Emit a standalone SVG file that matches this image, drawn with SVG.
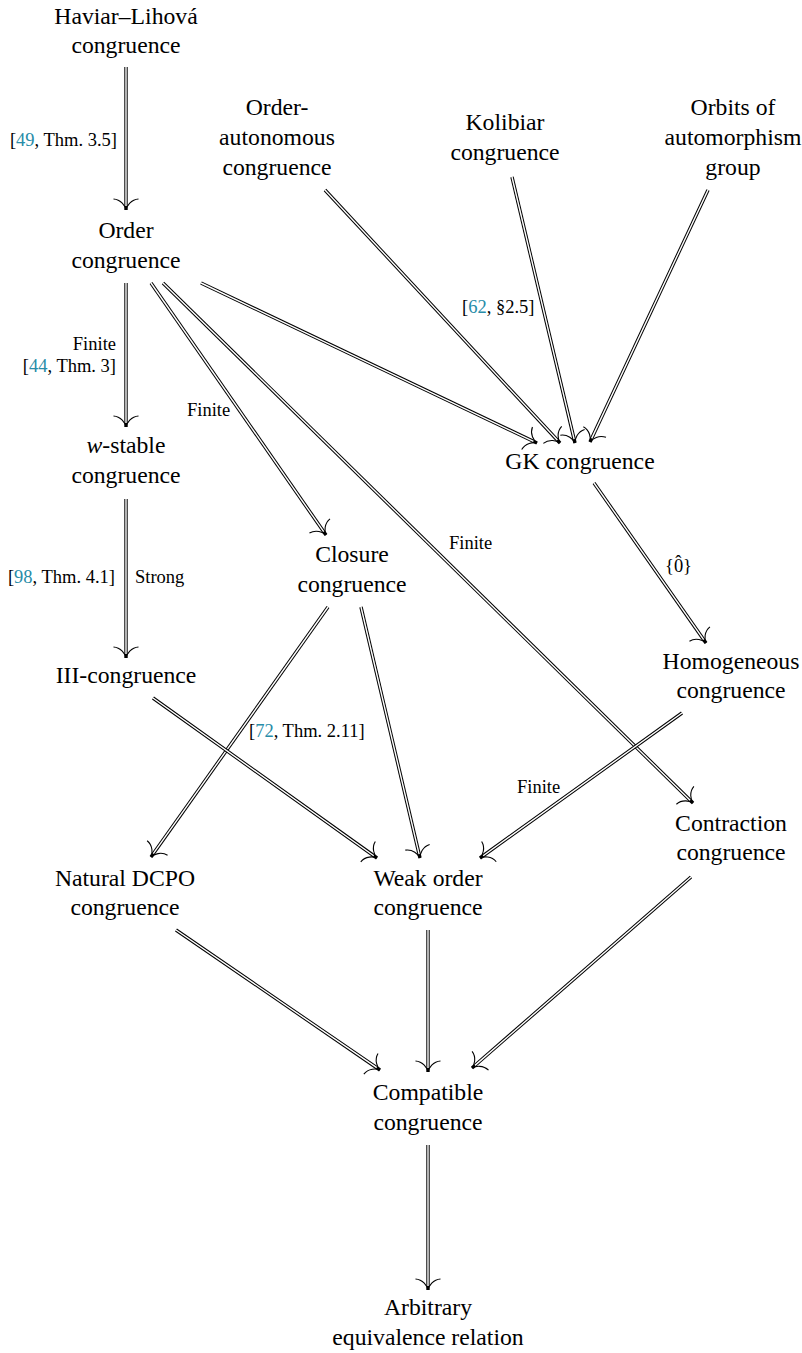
<svg xmlns="http://www.w3.org/2000/svg" width="802" height="1353" viewBox="0 0 802 1353">
<defs>
<style>
text{font-family:'Liberation Serif','DejaVu Serif',serif}
.n{font-size:23.7px;fill:#000;text-anchor:middle}
.l{font-size:18.5px;fill:#000}
.c{fill:#288ca8}
.o{stroke:#000;stroke-width:3.4;fill:none;marker-end:url(#ah)}
.i{stroke:#fff;stroke-width:1.4;fill:none}
</style>
<marker id="ah" markerUnits="userSpaceOnUse" viewBox="-14 -14 16 28" markerWidth="16" markerHeight="28" refX="0" refY="0" orient="auto" overflow="visible">
<path d="M -11,-12.5 C -10.5,-5 -4,-0.8 0,0 C -4,0.8 -10.5,5 -11,12.5" fill="none" stroke="#000" stroke-width="1.1"/>
</marker>
</defs>
<rect width="802" height="1353" fill="#fff"/>
<g id="connectors">
<g id="e1"><line class="o" x1="126" y1="67" x2="126" y2="210"/><line class="i" x1="126" y1="67" x2="126" y2="206"/></g>
<g id="e2"><line class="o" x1="126" y1="283" x2="126" y2="427"/><line class="i" x1="126" y1="283" x2="126" y2="423"/></g>
<g id="e3"><line class="o" x1="126" y1="499" x2="126" y2="658"/><line class="i" x1="126" y1="499" x2="126" y2="654"/></g>
<g id="e4"><line class="o" x1="151" y1="283" x2="326" y2="535"/><line class="i" x1="151" y1="283" x2="323.7" y2="531.7"/></g>
<g id="e6"><line class="o" x1="201" y1="283" x2="537" y2="443"/><line class="i" x1="201" y1="283" x2="533.4" y2="441.3"/></g>
<g id="e7"><line class="o" x1="325" y1="190" x2="560" y2="443"/><line class="i" x1="325" y1="190" x2="557.3" y2="440.1"/></g>
<g id="e8"><line class="o" x1="512" y1="177" x2="575" y2="443"/><line class="i" x1="512" y1="177" x2="574.1" y2="439.1"/></g>
<g id="e9"><line class="o" x1="708" y1="190" x2="590" y2="442"/><line class="i" x1="708" y1="190" x2="591.7" y2="438.4"/></g>
<g id="e10"><line class="o" x1="594" y1="483" x2="706" y2="643"/><line class="i" x1="594" y1="483" x2="703.7" y2="639.7"/></g>
<g id="e11"><line class="o" x1="328" y1="607" x2="151" y2="857"/><line class="i" x1="328" y1="607" x2="153.3" y2="853.7"/></g>
<g id="e12"><line class="o" x1="361" y1="607" x2="420" y2="858"/><line class="i" x1="361" y1="607" x2="419.1" y2="854.1"/></g>
<g id="e13"><line class="o" x1="153" y1="698" x2="377" y2="858"/><line class="i" x1="153" y1="698" x2="373.7" y2="855.7"/></g>
<g id="e5"><line class="o" x1="163" y1="283" x2="693" y2="803"/><line class="i" x1="163" y1="283" x2="690.1" y2="800.2"/></g>
<g id="e14"><line class="o" x1="682" y1="713" x2="480" y2="858"/><line class="i" x1="682" y1="713" x2="483.2" y2="855.7"/></g>
<g id="e15"><line class="o" x1="176" y1="930" x2="380" y2="1070"/><line class="i" x1="176" y1="930" x2="376.7" y2="1067.7"/></g>
<g id="e16"><line class="o" x1="428" y1="930" x2="428" y2="1072"/><line class="i" x1="428" y1="930" x2="428" y2="1068"/></g>
<g id="e17"><line class="o" x1="691" y1="877" x2="472" y2="1068"/><line class="i" x1="691" y1="877" x2="475" y2="1065.4"/></g>
<g id="e18"><line class="o" x1="428" y1="1145" x2="428" y2="1290"/><line class="i" x1="428" y1="1145" x2="428" y2="1286"/></g>
</g>
<g id="labels">
<text class="l" x="117" y="146" text-anchor="end">[<tspan class="c">49</tspan>, Thm. 3.5]</text>
<text class="l" x="116" y="350" text-anchor="end">Finite</text>
<text class="l" x="116" y="372" text-anchor="end">[<tspan class="c">44</tspan>, Thm. 3]</text>
<text class="l" x="115" y="583" text-anchor="end">[<tspan class="c">98</tspan>, Thm. 4.1]</text>
<text class="l" x="135" y="583">Strong</text>
<text class="l" x="187" y="416">Finite</text>
<text class="l" x="449" y="549">Finite</text>
<text class="l" x="462" y="313">[<tspan class="c">62</tspan>, §2.5]</text>
<text class="l" x="665" y="572">{0<tspan dx="-7.8" dy="-4">ˆ</tspan><tspan dx="1.6" dy="4">}</tspan></text>
<text class="l" x="249" y="737">[<tspan class="c">72</tspan>, Thm. 2.11]</text>
<text class="l" x="517" y="793">Finite</text>
</g>
<g id="nodes">
<g id="n-haviar"><text class="n" x="126" y="24">Haviar–Lihová</text><text class="n" x="126" y="53">congruence</text></g>
<g id="n-order"><text class="n" x="126" y="238">Order</text><text class="n" x="126" y="268">congruence</text></g>
<g id="n-wstable"><text class="n" x="126" y="453"><tspan font-style="italic">w</tspan>-stable</text><text class="n" x="126" y="483">congruence</text></g>
<g id="n-iii"><text class="n" x="126" y="683">III-congruence</text></g>
<g id="n-natural"><text class="n" x="125" y="886">Natural DCPO</text><text class="n" x="125" y="915">congruence</text></g>
<g id="n-orderauto"><text class="n" x="277" y="115">Order-</text><text class="n" x="277" y="145">autonomous</text><text class="n" x="277" y="175">congruence</text></g>
<g id="n-kolibiar"><text class="n" x="505" y="130">Kolibiar</text><text class="n" x="505" y="160">congruence</text></g>
<g id="n-orbits"><text class="n" x="733" y="115">Orbits of</text><text class="n" x="733" y="145">automorphism</text><text class="n" x="733" y="175">group</text></g>
<g id="n-gk"><text class="n" x="580" y="469">GK congruence</text></g>
<g id="n-closure"><text class="n" x="352" y="562">Closure</text><text class="n" x="352" y="592">congruence</text></g>
<g id="n-homog"><text class="n" x="731" y="669">Homogeneous</text><text class="n" x="731" y="698">congruence</text></g>
<g id="n-contraction"><text class="n" x="731" y="831">Contraction</text><text class="n" x="731" y="860">congruence</text></g>
<g id="n-weak"><text class="n" x="428" y="886">Weak order</text><text class="n" x="428" y="915">congruence</text></g>
<g id="n-compatible"><text class="n" x="428" y="1100">Compatible</text><text class="n" x="428" y="1130">congruence</text></g>
<g id="n-arbitrary"><text class="n" x="428" y="1315">Arbitrary</text><text class="n" x="428" y="1345">equivalence relation</text></g>
</g>
</svg>
